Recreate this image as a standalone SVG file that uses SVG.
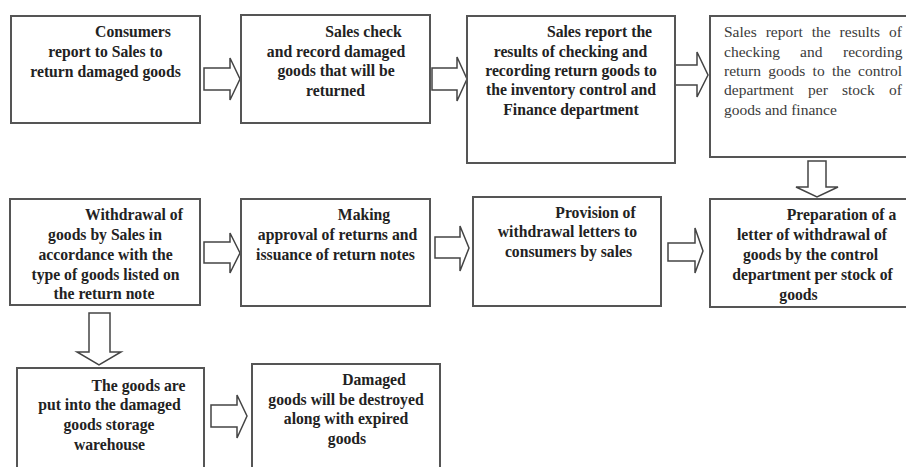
<svg xmlns="http://www.w3.org/2000/svg" width="906" height="467" viewBox="0 0 906 467">
<style>
  .box { fill: #ffffff; stroke: #555555; stroke-width: 2; }
  .arr { fill: #ffffff; stroke: #444444; stroke-width: 1.5; stroke-linejoin: miter; }
  .t { font-family: "Liberation Serif", "Times New Roman", serif; font-size: 15.7px; font-weight: bold; fill: #222222; text-anchor: middle; }
  .r { font-family: "Liberation Serif", "Times New Roman", serif; font-size: 15.5px; fill: #3a3a3a; }
</style>
<rect width="906" height="467" fill="#ffffff"/>
<g id="connectors">
  <polygon class="arr" points="204,68 230,68 230,58 240,79 230,100 230,90 204,90"/>
  <polygon class="arr" points="432,68 457,68 457,57 467,79 457,101 457,90 432,90"/>
  <polygon class="arr" points="674,65 697,65 697,52 708,75 697,97 697,85 674,85"/>
  <polygon class="arr" points="808,161 826,161 826,187 838,187 817,197 796,187 808,187"/>
  <polygon class="arr" points="204,242 230,242 230,233 240,253 230,273 230,263 204,263"/>
  <polygon class="arr" points="435,237 460,237 460,226 469,248 460,271 460,258 435,258"/>
  <polygon class="arr" points="668,243 695,243 695,228 703,251 695,273 695,261 668,261"/>
  <polygon class="arr" points="89,313 110,313 110,352 121,352 99,365 77,352 89,352"/>
  <polygon class="arr" points="211,405 237,405 237,395 247,416 237,438 237,427 211,427"/>
</g>
<g id="n1">
  <rect class="box" x="11" y="16" width="189" height="107"/>
  <text class="t" x="133" y="37">Consumers</text>
  <text class="t" x="105.5" y="57">report to Sales to</text>
  <text class="t" x="105.5" y="77">return damaged goods</text>
</g>
<g id="n2">
  <rect class="box" x="241" y="15" width="189" height="108"/>
  <text class="t" x="363.5" y="37">Sales check</text>
  <text class="t" x="336" y="57">and record damaged</text>
  <text class="t" x="336" y="76">goods that will be</text>
  <text class="t" x="335.5" y="96">returned</text>
</g>
<g id="n3">
  <rect class="box" x="467" y="16" width="208" height="147"/>
  <text class="t" x="599.5" y="37">Sales report the</text>
  <text class="t" x="570.5" y="57">results of checking and</text>
  <text class="t" x="571" y="76">recording return goods to</text>
  <text class="t" x="571" y="95">the inventory control and</text>
  <text class="t" x="571" y="115">Finance department</text>
</g>
<g id="n4">
  <rect class="box" x="710" y="16" width="210" height="141"/>
  <text class="r" y="37"><tspan x="724">Sales</tspan><tspan x="765.7">report</tspan><tspan x="811.7">the</tspan><tspan x="839.6">results</tspan><tspan x="889.1">of</tspan></text>
  <text class="r" y="57"><tspan x="724">checking</tspan><tspan x="800">and</tspan><tspan x="843">recording</tspan></text>
  <text class="r" y="76"><tspan x="724">return</tspan><tspan x="768.3">goods</tspan><tspan x="812.6">to</tspan><tspan x="831.9">the</tspan><tspan x="858.1">control</tspan></text>
  <text class="r" y="95"><tspan x="724">department</tspan><tspan x="808">per</tspan><tspan x="842">stock</tspan><tspan x="889">of</tspan></text>
  <text class="r" x="724" y="115">goods and finance</text>
</g>
<g id="n5">
  <rect class="box" x="10" y="199" width="190" height="106"/>
  <text class="t" x="134" y="220">Withdrawal of</text>
  <text class="t" x="105" y="240">goods by Sales in</text>
  <text class="t" x="105.5" y="260">accordance with the</text>
  <text class="t" x="105.5" y="280">type of goods listed on</text>
  <text class="t" x="104" y="299">the return note</text>
</g>
<g id="n6">
  <rect class="box" x="241" y="199" width="189" height="107"/>
  <text class="t" x="364" y="220">Making</text>
  <text class="t" x="337.5" y="240">approval of returns and</text>
  <text class="t" x="335.5" y="260">issuance of return notes</text>
</g>
<g id="n7">
  <rect class="box" x="473" y="197" width="188" height="109"/>
  <text class="t" x="595.5" y="218">Provision of</text>
  <text class="t" x="567.5" y="237">withdrawal letters to</text>
  <text class="t" x="568.5" y="257">consumers by sales</text>
</g>
<g id="n8">
  <rect class="box" x="710" y="199" width="210" height="108"/>
  <text class="t" x="841.5" y="220">Preparation of a</text>
  <text class="t" x="812" y="240">letter of withdrawal of</text>
  <text class="t" x="810.5" y="260">goods by the control</text>
  <text class="t" x="812.5" y="280">department per stock of</text>
  <text class="t" x="798.5" y="300">goods</text>
</g>
<g id="n9">
  <rect class="box" x="17" y="368" width="187" height="115"/>
  <text class="t" x="138.5" y="391">The goods are</text>
  <text class="t" x="109.5" y="410">put into the damaged</text>
  <text class="t" x="109" y="430">goods storage</text>
  <text class="t" x="109.5" y="450">warehouse</text>
</g>
<g id="n10">
  <rect class="box" x="252" y="364" width="188" height="120"/>
  <text class="t" x="374" y="385">Damaged</text>
  <text class="t" x="346" y="405">goods will be destroyed</text>
  <text class="t" x="346" y="424">along with expired</text>
  <text class="t" x="347" y="444">goods</text>
</g>
</svg>
